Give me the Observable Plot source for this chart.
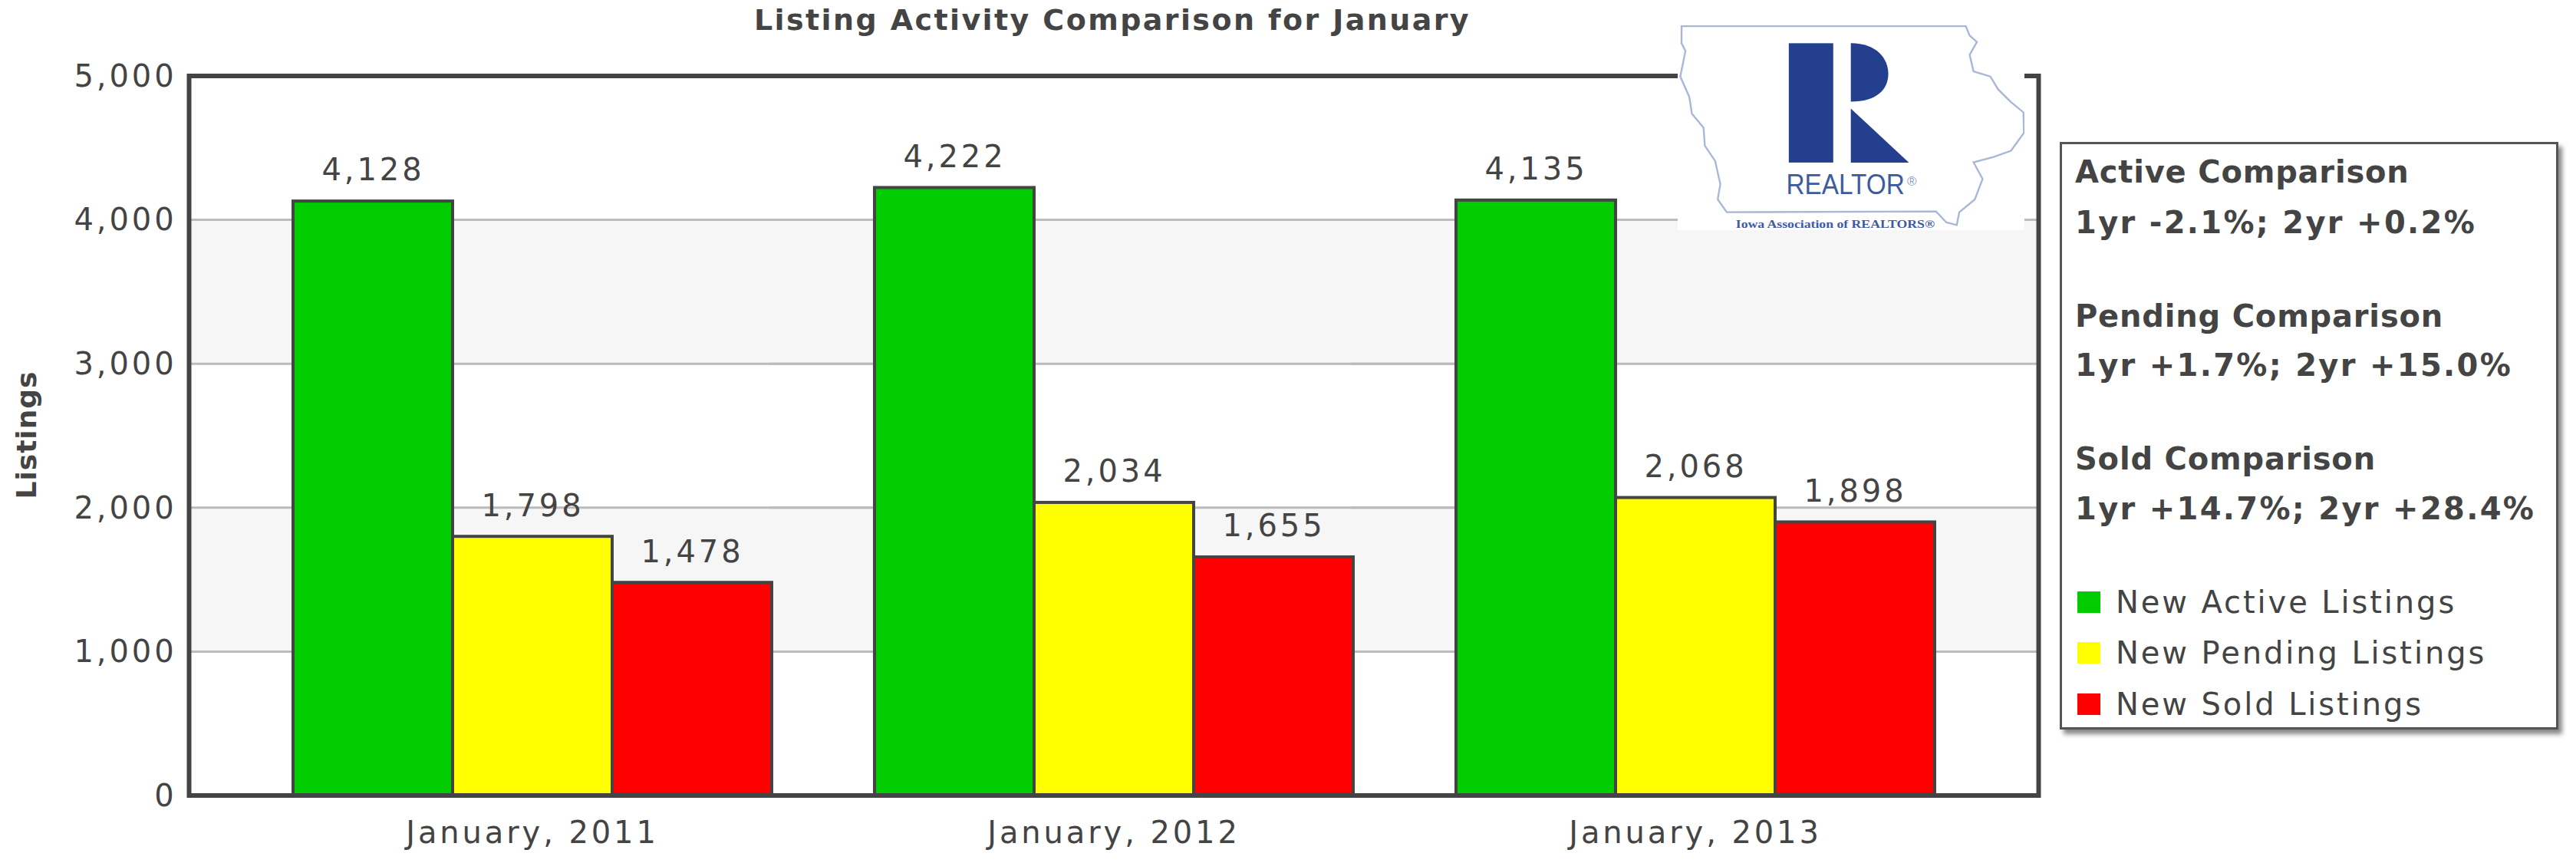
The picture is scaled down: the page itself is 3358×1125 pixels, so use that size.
<!DOCTYPE html>
<html>
<head>
<meta charset="utf-8">
<script src="https://cdn.jsdelivr.net/npm/d3@7"></script>
<script src="https://cdn.jsdelivr.net/npm/@observablehq/plot@0.6"></script>
<style>
html,body{margin:0;padding:0;background:#fff;}
#wrap{position:relative;width:3358px;height:1125px;overflow:hidden;font-family:"DejaVu Sans",Verdana,sans-serif;color:#444;}
#title{position:absolute;left:0;width:2900px;top:6px;text-align:center;font-weight:bold;font-size:38px;letter-spacing:2.4px;line-height:40px;color:#444;}
#ylabel{position:absolute;left:34px;top:567px;transform:translate(-50%,-50%) rotate(-90deg);font-weight:bold;font-size:36px;letter-spacing:1px;color:#444;white-space:nowrap;}
#logo{position:absolute;left:2187px;top:33px;width:452px;height:267px;}
#legend{position:absolute;left:2685px;top:185px;width:650px;height:766px;box-sizing:border-box;border:3px solid #555;background:#fff;box-shadow:5px 6px 6px #888;}
.ln{position:absolute;white-space:nowrap;line-height:44px;margin-top:-22px;}
.b{font-weight:bold;font-size:40px;letter-spacing:2.3px;}
.h{letter-spacing:0.8px;}
.n{font-size:40px;letter-spacing:2.9px;}
.sw{position:absolute;width:30px;height:28px;margin-top:-14px;}
svg{display:block;}
</style>
</head>
<body>
<div id="wrap">
<div id="chart"></div>
<div id="title"></div>
<div id="ylabel"></div>
<svg id="logo" viewBox="0 0 1342 800" preserveAspectRatio="none">
<rect width="1342" height="800" fill="#fff"/>
<path fill="none" stroke="#a9b6d8" stroke-width="7" d="M15,3 L1115,3 L1130,40 L1158,65 L1130,115 L1145,180 L1210,200 L1240,250 L1290,300 L1338,340 L1340,420 L1290,490 L1220,515 L1145,535 L1180,600 L1150,680 L1090,730 L1080,780 L1040,770 L1000,727 L190,730 L155,680 L165,620 L145,530 L105,470 L100,400 L55,345 L45,280 L10,200 L30,100 L15,70 Z"/>
<g fill="#233f8e">
<rect x="430" y="70" width="172" height="466"/>
<path d="M670,70 C770,70 815,130 815,190 C815,250 770,298 670,298 Z"/>
<path d="M670,325 L895,536 L670,536 Z"/>
</g>
<text x="420" y="660" font-family="Liberation Sans,sans-serif" font-size="112" fill="#3f5a9e" textLength="458" lengthAdjust="spacingAndGlyphs">REALTOR</text>
<text x="888" y="625" font-family="Liberation Sans,sans-serif" font-size="50" fill="#8c9cc8">®</text>
<text x="225" y="790" font-family="Liberation Serif,serif" font-weight="bold" font-size="42" fill="#3f5a9e" textLength="770" lengthAdjust="spacingAndGlyphs">Iowa Association of REALTORS®</text>
</svg>
<div id="legend"></div>
</div>
<script>
const months = ["January, 2011", "January, 2012", "January, 2013"];
const seriesNames = ["New Active Listings", "New Pending Listings", "New Sold Listings"];
const seriesColors = ["#00cc00", "#ffff00", "#ff0000"];
const activeValues = [4128, 4222, 4135];
const pendingValues = [1798, 2034, 2068];
const soldValues = [1478, 1655, 1898];
const yTicks = [0, 1000, 2000, 3000, 4000, 5000];
const gridValues = [1000, 2000, 3000, 4000];
const bandStarts = [1000, 3000];
const titleText = "Listing Activity Comparison for January";
const yLabelText = "Listings";
const notes = ["Active Comparison", "1yr -2.1%; 2yr +0.2%", "Pending Comparison", "1yr +1.7%; 2yr +15.0%", "Sold Comparison", "1yr +14.7%; 2yr +28.4%"];

const rows = [];
[activeValues, pendingValues, soldValues].forEach((vals, s) =>
  vals.forEach((v, m) => rows.push({month: months[m], series: seriesNames[s], value: v})));

const fmt = d3.format(",");
const gapInset = -136;

const plot = Plot.plot({
  width: 3358, height: 1125,
  marginLeft: 246, marginRight: 700, marginTop: 98.5, marginBottom: 88.5,
  style: {fontFamily: '"DejaVu Sans",Verdana,sans-serif', background: "#fff", color: "#444", letterSpacing: "3.9px"},
  fx: {domain: months, paddingInner: 0.175, paddingOuter: 0.178, label: null},
  x: {domain: seriesNames, padding: 0, axis: null},
  y: {domain: [0, 5000]},
  color: {domain: seriesNames, range: seriesColors},
  marks: [
    Plot.rectY(bandStarts, {y1: d => d, y2: d => d + 1000, fill: "#f6f6f6", insetLeft: gapInset, insetRight: gapInset}),
    Plot.ruleY(gridValues, {stroke: "#bbb", strokeWidth: 3, insetLeft: gapInset, insetRight: gapInset}),
    Plot.barY(rows, {fx: "month", x: "series", y: "value", fill: "series", stroke: "#444", strokeWidth: 4}),
    Plot.text(rows, {fx: "month", x: "series", y: "value", text: d => fmt(d.value), dy: -40, lineAnchor: "middle", fontSize: 40, fill: "#444"}),
    Plot.frame({stroke: "#444", strokeWidth: 6, facet: "super", insetLeft: -135, insetRight: -135}),
    Plot.axisY({ticks: yTicks, tickSize: 0, tickPadding: 151, tickFormat: fmt, fontSize: 40, fill: "#444", label: null, dy: 1}),
    Plot.axisFx({anchor: "bottom", tickSize: 0, tickPadding: 34, fontSize: 40, fill: "#444", label: null})
  ]
});
document.getElementById("chart").appendChild(plot);
document.getElementById("title").textContent = titleText;
document.getElementById("ylabel").textContent = yLabelText;

const lg = document.getElementById("legend");
const noteTops = [36, 102, 224, 288, 410, 475];
notes.forEach((t, i) => {
  const d = document.createElement("div");
  d.className = "ln b" + (i % 2 === 0 ? " h" : ""); d.textContent = t;
  d.style.left = "17px"; d.style.top = noteTops[i] + "px";
  lg.appendChild(d);
});
const legendTops = [597, 663, 730];
seriesNames.forEach((t, i) => {
  const s = document.createElement("div");
  s.className = "sw"; s.style.left = "20px"; s.style.top = legendTops[i] + "px"; s.style.background = seriesColors[i];
  lg.appendChild(s);
  const d = document.createElement("div");
  d.className = "ln n"; d.textContent = t;
  d.style.left = "70px"; d.style.top = legendTops[i] + "px";
  lg.appendChild(d);
});
</script>
</body>
</html>
